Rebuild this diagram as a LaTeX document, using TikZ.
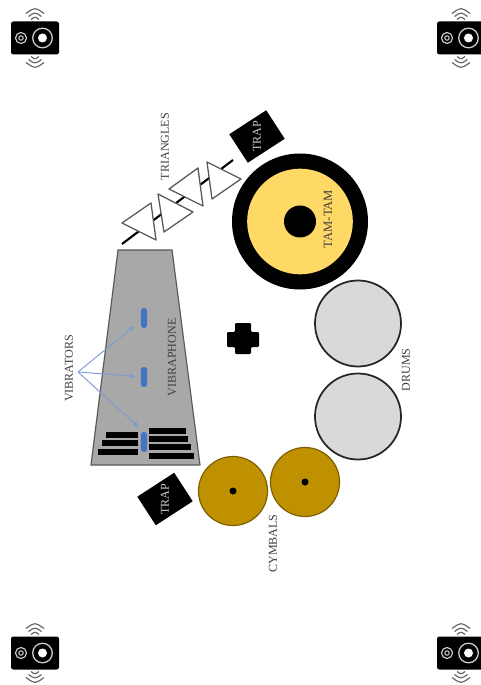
\documentclass[tikz,border=0pt]{standalone}
\usepackage{fontspec}
\setmainfont{Liberation Serif}
\usetikzlibrary{arrows.meta}
\definecolor{vibgrey}{HTML}{A8A8A8}
\definecolor{tamyellow}{HTML}{FFD966}
\definecolor{cymgold}{HTML}{BF9000}
\definecolor{drumgrey}{HTML}{D9D9D9}
\definecolor{oscblue}{HTML}{4472C4}
\definecolor{arrblue}{HTML}{7F9BD0}
\tikzset{
  lab/.style={rotate=90,text=black!75,font=\fontsize{10.3}{12}\selectfont,inner sep=0pt},
  trapbox/.style={fill=black,rotate=33,minimum width=1.32cm,minimum height=1.02cm,inner sep=0pt},
  traplab/.style={lab,text=black!20},
  drum/.style={circle,draw=black!85,line width=1.5pt,fill=drumgrey,minimum size=2.58cm,inner sep=0pt},
  cymbal/.style={circle,draw=cymgold!65!black,line width=1pt,fill=cymgold,minimum size=2.07cm,inner sep=0pt},
  dot/.style={circle,fill=black,minimum size=0.21cm,inner sep=0pt},
  vibrator/.style={rectangle,rounded corners=0.09cm,fill=oscblue,minimum width=0.19cm,minimum height=0.6cm,inner sep=0pt},
  bar/.style={fill=black},
  triangle/.style={draw=black!65,line width=1.1pt,fill=white,line join=round},
  vibarrow/.style={-{Latex[length=5pt,width=4.5pt]},draw=arrblue,line width=0.8pt}
}
\begin{document}
\begin{tikzpicture}[x=0.03cm,y=-0.03cm]
\useasboundingbox[fill=white] (0,0) rectangle (480,685);
% speakers
\foreach \sx/\sy in {35/38,461/38,35/653,461/653}{
  \begin{scope}[shift={(\sx,\sy)}]
  \fill[black,rounded corners=2pt] (-24,-16.5) rectangle (24,16.5);
  \draw[black!20,line width=1pt] (-14,0) circle (5.5);
  \draw[black!20,line width=0.9pt] (-14,0) circle (2.2);
  \draw[black!20,line width=1.1pt] (7.5,0) circle (9.8);
  \fill[white] (7.5,0) circle (4.5);
  \foreach \dy in {-1,1}{
    \draw[black!60,line width=1pt] (-9,\dy*24.5) .. controls (0,\dy*31) .. (9,\dy*24.5);
    \draw[black!60,line width=1pt] (-6.5,\dy*21.5) .. controls (0,\dy*26) .. (6.5,\dy*21.5);
    \draw[black!60,line width=1pt] (-4,\dy*18.5) .. controls (0,\dy*21.5) .. (4,\dy*18.5);
  }
  \end{scope}
}
% triangles on their rod
\coordinate (rodA) at (122,244);
\coordinate (rodB) at (233,160);
\draw[black,line width=1.8pt] (rodA)--(rodB);
\draw[triangle] (122,223)--(151,203)--(156,240)--cycle;
\draw[triangle] (158,194)--(193,212)--(164,232)--cycle;
\draw[triangle] (169,189)--(198,168)--(203,206)--cycle;
\draw[triangle] (207,162)--(241,179)--(212,199)--cycle;
\node[lab] (triangles) at (165,146.5) {TRIANGLES};
% traps
\node[trapbox] (trapA) at (257,136.5) {};
\node[traplab] at (trapA) {TRAP};
\node[trapbox] (trapB) at (165,499) {};
\node[traplab] at (trapB) {TRAP};
% tam-tam
\node[circle,fill=black,minimum size=4.08cm,inner sep=0pt] (tamO) at (300,221.5) {};
\node[circle,fill=tamyellow,minimum size=3.17cm,inner sep=0pt] (tamM) at (tamO) {};
\node[circle,fill=black,minimum size=0.96cm,inner sep=0pt] (tamI) at (tamO) {};
\node[lab,font=\fontsize{10.8}{12}\selectfont] (tamlab) at (328,219) {TAM-TAM};
% drums
\node[drum] (drumA) at (358,323.5) {};
\node[drum] (drumB) at (358,416.5) {};
\node[lab] (drumlab) at (406,370) {DRUMS};
% cross
\fill[black,rounded corners=1pt] (235,323) -- (251,323) -- (251,332) -- (259,332) -- (259,347) -- (251,347) -- (251,354) -- (235,354) -- (235,347) -- (227,347) -- (227,332) -- (235,332) -- cycle;
% cymbals
\node[cymbal] (cymA) at (233,491) {};
\node[cymbal] (cymB) at (305,482) {};
\node[dot] at (cymA) {};
\node[dot] at (cymB) {};
\node[lab] (cymlab) at (273,543.5) {CYMBALS};
% vibraphone
\draw[draw=black!65,line width=1pt,fill=vibgrey] (118,250)--(172,250)--(200,465)--(91,465)--cycle;
\fill[bar] (106,432) rectangle (138,438);
\fill[bar] (102,440) rectangle (138,446);
\fill[bar] (98,449) rectangle (138,455);
\fill[bar] (149,428) rectangle (186,434);
\fill[bar] (149,436) rectangle (188,442);
\fill[bar] (149,444) rectangle (191,450);
\fill[bar] (149,453) rectangle (194,459);
\node[vibrator] (vibA) at (144,318) {};
\node[vibrator] (vibB) at (144,377) {};
\node[vibrator] (vibC) at (144,442) {};
\node[lab] (viblab) at (172,357.5) {VIBRAPHONE};
\node[lab] (vibtors) at (69,368.5) {VIBRATORS};
\coordinate (vibroot) at (78,372);
\draw[vibarrow,shorten >=0.24cm] (vibroot)--(vibA);
\draw[vibarrow,shorten >=0.15cm] (vibroot)--(vibB);
\draw[vibarrow,shorten >=0.2cm] (vibroot)--(vibC.north);
\end{tikzpicture}
\end{document}
